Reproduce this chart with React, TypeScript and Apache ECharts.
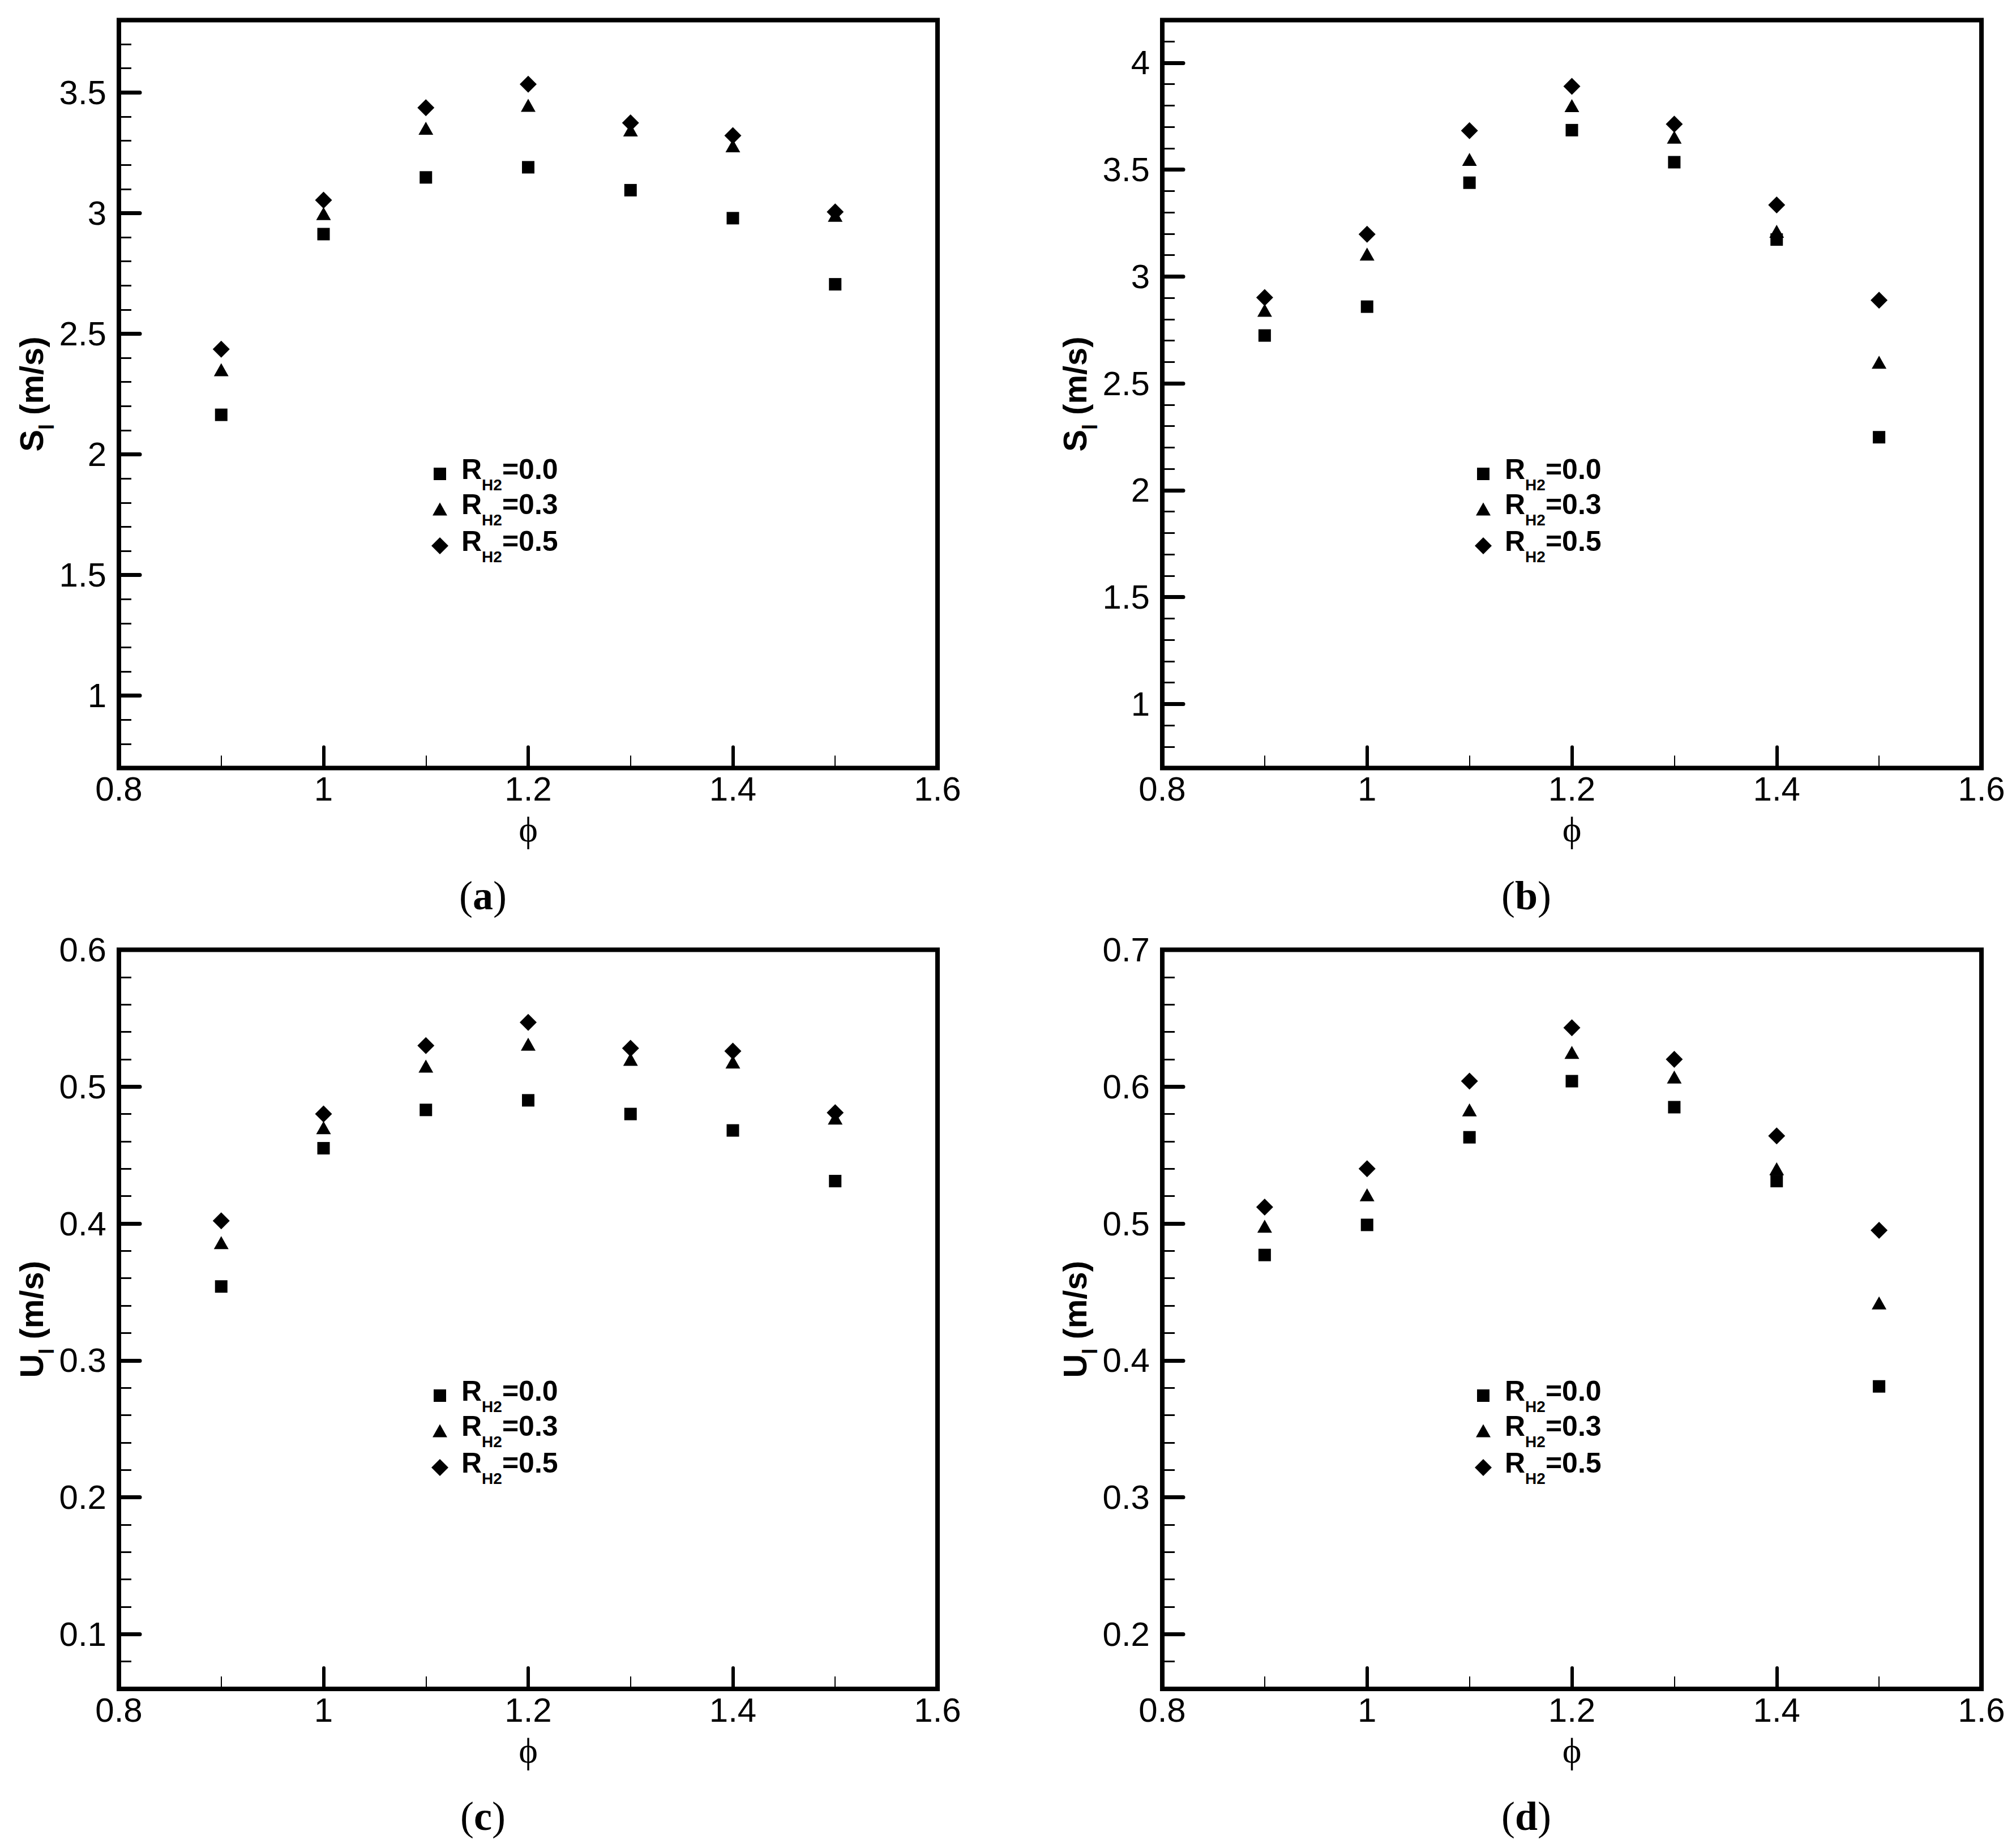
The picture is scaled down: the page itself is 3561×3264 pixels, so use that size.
import React, { useEffect, useRef } from "react";
import * as echarts from "echarts";

// ---------------- data ----------------
const phi = [0.9, 1.0, 1.1, 1.2, 1.3, 1.4, 1.5];
const seriesNames = ["RH2=0.0", "RH2=0.3", "RH2=0.5"];

// (a) S_l
const aR00 = [2.164, 2.913, 3.148, 3.19, 3.095, 2.979, 2.705];
const aR03 = [2.351, 2.998, 3.352, 3.447, 3.345, 3.279, 2.991];
const aR05 = [2.436, 3.054, 3.437, 3.534, 3.374, 3.321, 3.005];

// (b) S_l
const bR00 = [2.724, 2.859, 3.439, 3.685, 3.535, 3.173, 2.248];
const bR03 = [2.842, 3.105, 3.548, 3.8, 3.652, 3.212, 2.599];
const bR05 = [2.902, 3.198, 3.683, 3.89, 3.713, 3.335, 2.889];

// (c) U_l
const cR00 = [0.354, 0.455, 0.483, 0.49, 0.48, 0.468, 0.431];
const cR03 = [0.386, 0.47, 0.515, 0.531, 0.52, 0.518, 0.477];
const cR05 = [0.402, 0.48, 0.53, 0.547, 0.528, 0.526, 0.481];

// (d) U_l
const dR00 = [0.477, 0.499, 0.563, 0.604, 0.585, 0.531, 0.381];
const dR03 = [0.498, 0.521, 0.583, 0.625, 0.607, 0.54, 0.442];
const dR05 = [0.512, 0.54, 0.604, 0.643, 0.62, 0.564, 0.495];

// tick labels
const xTickLabels = [0.8, 1.0, 1.2, 1.4, 1.6];
const xMajorTicks = [1.0, 1.2, 1.4];
const xMinorTicks = [0.9, 1.1, 1.3, 1.5];
const yTicksA = [1, 1.5, 2, 2.5, 3, 3.5];
const yTicksB = [1, 1.5, 2, 2.5, 3, 3.5, 4];
const yTicksC = [0.1, 0.2, 0.3, 0.4, 0.5, 0.6];
const yTicksD = [0.2, 0.3, 0.4, 0.5, 0.6, 0.7];

// ---------------- helpers ----------------
function minors(from: number, to: number, step: number, majors: number[]) {
  const out: number[] = [];
  const n = Math.round((to - from) / step);
  for (let i = 0; i <= n; i++) {
    const v = Math.round((from + i * step) * 1e6) / 1e6;
    if (!majors.some((m) => Math.abs(m - v) < 1e-6)) out.push(v);
  }
  return out;
}
const fmt = (v: number) => String(parseFloat(Number(v).toFixed(2)));

const SANS = "Liberation Sans";
const SERIF = "Liberation Serif";

const panels = [
  {
    cap: "a",
    grid: { left: 210, top: 35.5, width: 1446, height: 1321 },
    yMin: 0.7, yMax: 3.8, yTicks: yTicksA, yMinor: minors(0.8, 3.7, 0.1, yTicksA),
    yVar: "S", data: [aR00, aR03, aR05],
    legendX: 777, legendRows: [837, 899, 964], capPos: [853, 1582],
  },
  {
    cap: "b",
    grid: { left: 2053, top: 35.5, width: 1447, height: 1321 },
    yMin: 0.7, yMax: 4.2, yTicks: yTicksB, yMinor: minors(0.8, 4.1, 0.1, yTicksB),
    yVar: "S", data: [bR00, bR03, bR05],
    legendX: 2620, legendRows: [837, 899, 964], capPos: [2696, 1582],
  },
  {
    cap: "c",
    grid: { left: 210, top: 1677.5, width: 1446, height: 1305.5 },
    yMin: 0.06, yMax: 0.6, yTicks: yTicksC, yMinor: minors(0.08, 0.58, 0.02, yTicksC),
    yVar: "U", data: [cR00, cR03, cR05],
    legendX: 777, legendRows: [2465, 2527, 2592], capPos: [853, 3208],
  },
  {
    cap: "d",
    grid: { left: 2053, top: 1677.5, width: 1447, height: 1305.5 },
    yMin: 0.16, yMax: 0.7, yTicks: yTicksD, yMinor: minors(0.18, 0.68, 0.02, yTicksD),
    yVar: "U", data: [dR00, dR03, dR05],
    legendX: 2620, legendRows: [2465, 2527, 2592], capPos: [2696, 3208],
  },
];

const symbols = [
  { symbol: "rect", size: [22, 22] },
  { symbol: "triangle", size: [26, 23] },
  { symbol: "diamond", size: [30, 30] },
];

function buildOption() {
  const grid: any[] = [];
  const xAxis: any[] = [];
  const yAxis: any[] = [];
  const series: any[] = [];
  const legend: any[] = [];
  const graphic: any[] = [];

  panels.forEach((p, i) => {
    grid.push({
      ...p.grid,
      show: true,
      borderColor: "#000",
      borderWidth: 8,
      backgroundColor: "transparent",
      containLabel: false,
    });
    // major x axis (labels, long ticks, name)
    xAxis.push({
      type: "value",
      gridIndex: i,
      position: "bottom",
      offset: 0,
      min: 0.8,
      max: 1.6,
      axisLine: { show: false, onZero: false },
      splitLine: { show: false },
      axisTick: {
        show: true,
        inside: true,
        length: 37,
        customValues: xMajorTicks,
        lineStyle: { color: "#000", width: 6, cap: "round" },
      },
      axisLabel: {
        show: true,
        customValues: xTickLabels,
        margin: 7,
        color: "#000",
        fontFamily: SANS,
        fontSize: 60,
        formatter: fmt,
      },
      name: "ϕ",
      nameLocation: "middle",
      nameGap: 76,
      nameTextStyle: { fontFamily: SERIF, fontSize: 64, color: "#000" },
    });
    // minor x axis (short ticks)
    xAxis.push({
      type: "value",
      gridIndex: i,
      position: "bottom",
      offset: 0,
      min: 0.8,
      max: 1.6,
      axisLine: { show: false, onZero: false },
      splitLine: { show: false },
      axisLabel: { show: false },
      axisTick: {
        show: true,
        inside: true,
        length: 22,
        customValues: xMinorTicks,
        lineStyle: { color: "#000", width: 2 },
      },
    });
    // major y axis
    yAxis.push({
      type: "value",
      gridIndex: i,
      position: "left",
      offset: 0,
      min: p.yMin,
      max: p.yMax,
      axisLine: { show: false, onZero: false },
      splitLine: { show: false },
      axisTick: {
        show: true,
        inside: true,
        length: 37,
        customValues: p.yTicks,
        lineStyle: { color: "#000", width: 7, cap: "round" },
      },
      axisLabel: {
        show: true,
        customValues: p.yTicks,
        margin: 22,
        color: "#000",
        fontFamily: SANS,
        fontSize: 60,
        formatter: fmt,
      },
      name: `{b|${p.yVar}}{s|l}{b| (m/s)}`,
      nameLocation: "middle",
      nameRotate: 90,
      nameGap: 110,
      nameTextStyle: {
        color: "#000",
        fontFamily: SANS,
        fontWeight: "bold",
        fontSize: 58,
        rich: {
          b: {
            fontFamily: SANS, fontWeight: "bold", fontSize: 58, lineHeight: 74,
            verticalAlign: "top", color: "#000",
          },
          s: {
            fontFamily: SANS, fontWeight: "bold", fontSize: 36, lineHeight: 16,
            verticalAlign: "bottom", color: "#000",
          },
        },
      },
    });
    // minor y axis
    yAxis.push({
      type: "value",
      gridIndex: i,
      position: "left",
      offset: 0,
      min: p.yMin,
      max: p.yMax,
      axisLine: { show: false, onZero: false },
      splitLine: { show: false },
      axisLabel: { show: false },
      axisTick: {
        show: true,
        inside: true,
        length: 22,
        customValues: p.yMinor,
        lineStyle: { color: "#000", width: 3 },
      },
    });

    p.data.forEach((vals, k) => {
      series.push({
        type: "scatter",
        name: seriesNames[k],
        xAxisIndex: 2 * i,
        yAxisIndex: 2 * i,
        symbol: symbols[k].symbol,
        symbolSize: symbols[k].size,
        itemStyle: { color: "#000", opacity: 1 },
        data: phi.map((x, j) => [x, vals[j]]),
        z: 5,
      });

      const w = symbols[k].size[0];
      const h = symbols[k].size[1];
      const left = p.legendX - w / 2;
      const textStart = p.legendX + 38;
      const spacer = textStart - (left + w + 5);
      legend.push({
        show: true,
        orient: "vertical",
        left,
        top: p.legendRows[k] - 33,
        padding: 0,
        itemGap: 0,
        itemWidth: w,
        itemHeight: h,
        selectedMode: false,
        data: [{ name: seriesNames[k], icon: symbols[k].symbol }],
        formatter: (n: string) => `{g| }{b|R}{s|H2}{b|=${n.slice(4)}}`,
        textStyle: {
          color: "#000",
          rich: {
            g: { width: spacer, lineHeight: 66, fontSize: 10 },
            b: {
              fontFamily: SANS, fontWeight: "bold", fontSize: 50, lineHeight: 50,
              verticalAlign: "top", color: "#000",
            },
            s: {
              fontFamily: SANS, fontWeight: "bold", fontSize: 28, lineHeight: 36,
              verticalAlign: "bottom", color: "#000",
            },
          },
        },
      });
    });

    graphic.push({
      type: "text",
      x: p.capPos[0],
      y: p.capPos[1],
      style: {
        text: `{p|(}{l|${p.cap}}{p|)}`,
        align: "center",
        verticalAlign: "middle",
        fill: "#000",
        rich: {
          p: { fontFamily: SERIF, fontSize: 72, fill: "#000" },
          l: { fontFamily: SERIF, fontSize: 72, fontWeight: "bold", fill: "#000" },
        },
      },
    });
  });

  return {
    animation: false,
    backgroundColor: "#fff",
    grid,
    xAxis,
    yAxis,
    series,
    legend,
    graphic,
  };
}

export default function App() {
  const ref = useRef<HTMLDivElement>(null);
  useEffect(() => {
    if (!ref.current) return;
    const chart = echarts.init(ref.current, undefined, { renderer: "svg" });
    chart.setOption(buildOption() as any);
    return () => chart.dispose();
  }, []);
  return (
    <div
      ref={ref}
      style={{ position: "fixed", left: 0, top: 0, width: 3561, height: 3264, background: "#fff" }}
    />
  );
}
